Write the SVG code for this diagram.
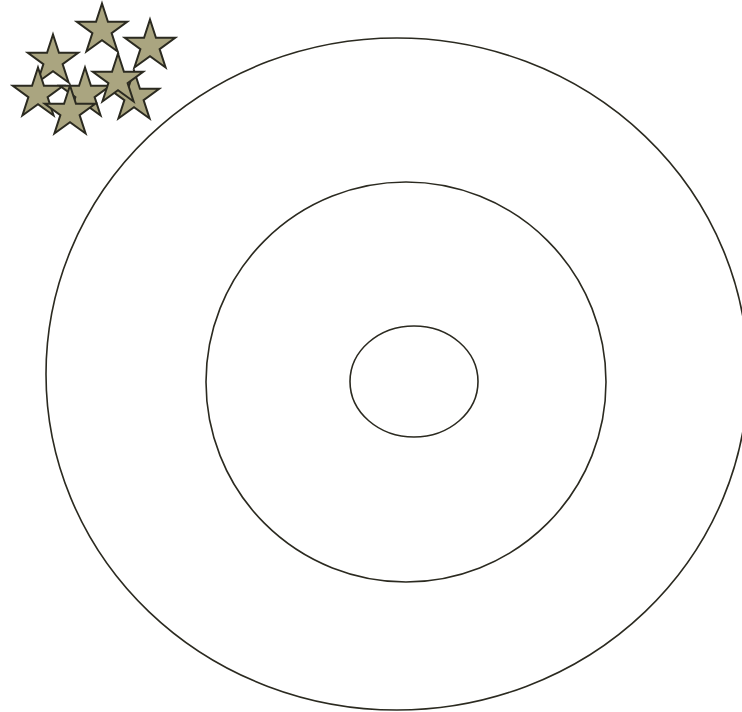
<svg xmlns="http://www.w3.org/2000/svg" xmlns:xlink="http://www.w3.org/1999/xlink" width="742" height="712" viewBox="0 0 742 712">
<style>
.ring{fill:none;stroke:#2b2a20;stroke-width:1.6}
.star{fill:#aaa580;stroke:#2b2a20;stroke-width:2;stroke-linejoin:miter}
</style>
<defs>
<polygon id="star" points="0,-26.5 5.95,-8.19 25.2,-8.19 9.62,3.13 15.57,21.44 0,10.12 -15.57,21.44 -9.62,3.13 -25.2,-8.19 -5.95,-8.19"/>
</defs>
<rect width="742" height="712" fill="#ffffff"/>
<g id="outer-ring"><ellipse class="ring" cx="397" cy="374" rx="351" ry="336"/></g>
<g id="middle-ring"><circle class="ring" cx="406" cy="382" r="200"/></g>
<g id="inner-ring"><ellipse class="ring" cx="414" cy="381.5" rx="64" ry="55.5"/></g>
<g id="stars">
<g id="star1"><use xlink:href="#star" class="star" transform="translate(102,30)"/></g>
<g id="star2"><use xlink:href="#star" class="star" transform="translate(150,46)"/></g>
<g id="star3"><use xlink:href="#star" class="star" transform="translate(53,61)"/></g>
<g id="star4"><use xlink:href="#star" class="star" transform="translate(38,94)"/></g>
<g id="star5"><use xlink:href="#star" class="star" transform="translate(85,94)"/></g>
<g id="star6"><use xlink:href="#star" class="star" transform="translate(134,97)"/></g>
<g id="star7"><use xlink:href="#star" class="star" transform="translate(118,80)"/></g>
<g id="star8"><use xlink:href="#star" class="star" transform="translate(70,112)"/></g>
</g>
</svg>
